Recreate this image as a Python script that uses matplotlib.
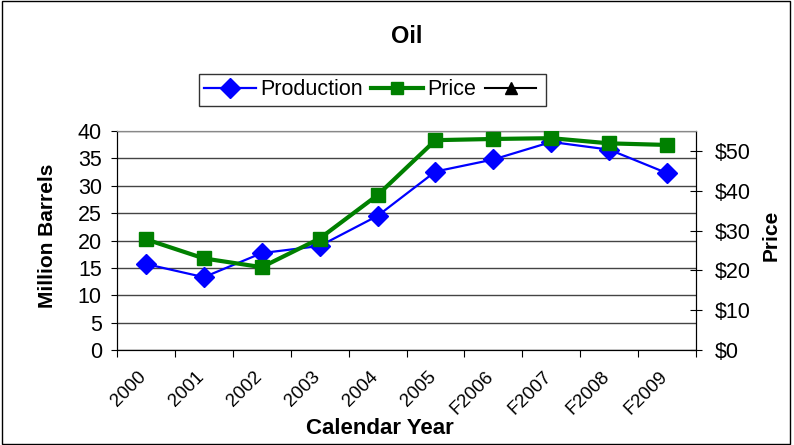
import matplotlib
matplotlib.use("Agg")
import matplotlib.pyplot as plt
from matplotlib.lines import Line2D
from matplotlib.patches import Rectangle

plt.rcParams['font.family'] = ['Liberation Sans', 'DejaVu Sans']

# data
years = ['2000', '2001', '2002', '2003', '2004', '2005',
         'F2006', 'F2007', 'F2008', 'F2009']
production = [15.7, 13.3, 17.7, 19.0, 24.5, 32.6, 34.8, 38.0, 36.6, 32.3]
price = [27.8, 23.0, 20.8, 28.0, 38.9, 52.7, 53.0, 53.2, 51.9, 51.5]
left_ticks = [0, 5, 10, 15, 20, 25, 30, 35, 40]
right_ticks = [0, 10, 20, 30, 40, 50]

fig = plt.figure(figsize=(7.94, 4.45), dpi=100)
ax = fig.add_axes([0.1474, 0.2135, 0.7292, 0.4921])
ax2 = ax.twinx()

x = [i + 0.5 for i in range(len(years))]

ax.plot(x, production, color='#0000ff', linewidth=1.6, marker='D',
        markersize=10, label='Production', zorder=3)
ax2.plot(x, price, color='#008000', linewidth=3, marker='s',
         markersize=9.5, label='Price', zorder=3)

# left axis
ax.set_xlim(0, len(years))
ax.set_ylim(0, 40)
ax.set_yticks(left_ticks)
ax.tick_params(axis='y', direction='out', length=4, labelsize=15.5, pad=7)
ax.yaxis.grid(True, color='#444444', linewidth=1)
ax.set_axisbelow(True)
ax.set_xticks(range(len(years) + 1))
ax.set_xticklabels([])
ax.tick_params(axis='x', direction='out', length=5)
for i, lab in enumerate(years):
    ax.text(x[i] - 0.14, -3.3, lab, rotation=45, ha='right', va='top',
            fontsize=13.5, rotation_mode='anchor')

# right axis
ax2.set_ylim(0, 55)
ax2.set_yticks(right_ticks)
ax2.set_yticklabels(['$%d' % v for v in right_ticks])
ax2.tick_params(axis='y', direction='inout', length=9, labelsize=15.5, pad=9)

for a in (ax, ax2):
    a.spines['top'].set_color('#888888')
    a.spines['left'].set_color('black')
    a.spines['right'].set_color('black')
    a.spines['bottom'].set_color('black')

fig.text(0.0592, 0.47, 'Million Barrels', rotation=90, ha='center',
         va='center', fontsize=15, fontweight='bold')
fig.text(0.971, 0.47, 'Price', rotation=90, ha='center', va='center',
         fontsize=15, fontweight='bold')
fig.text(0.478, 0.037, 'Calendar Year', ha='center', va='center',
         fontsize=16, fontweight='bold')
fig.text(0.512, 0.917, 'Oil', ha='center', va='center', fontsize=17,
         fontweight='bold')

handles = [
    Line2D([], [], color='#0000ff', linewidth=1.6, marker='D', markersize=10),
    Line2D([], [], color='#008000', linewidth=3, marker='s', markersize=8),
    Line2D([], [], color='black', linewidth=1.5, marker='^', markersize=8),
]
leg = fig.legend(handles, ['Production', 'Price', ''], ncol=3,
                 loc='center', bbox_to_anchor=(0.469, 0.798), fontsize=15.5,
                 frameon=True, fancybox=False, edgecolor='black',
                 handlelength=2.4, handletextpad=0.2, columnspacing=0.4,
                 borderpad=0.25)
leg.get_frame().set_linewidth(1)

fig.patches.append(Rectangle((0.002, 0.002), 0.993, 0.995, fill=False,
                             edgecolor='black', linewidth=1,
                             transform=fig.transFigure))

fig.savefig('out.png', dpi=100)
